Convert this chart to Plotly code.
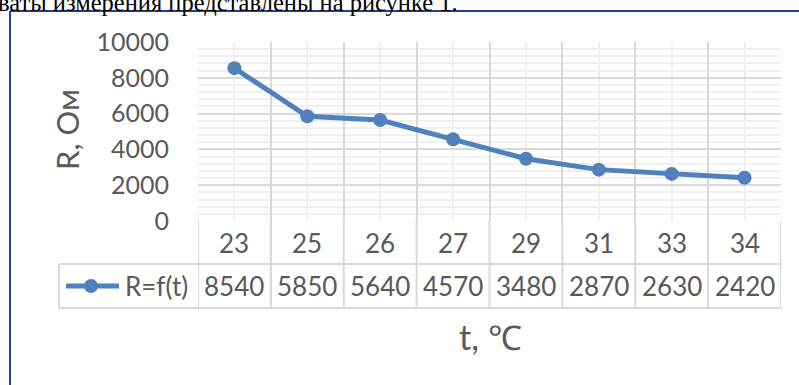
import plotly.graph_objects as go

categories = ["23", "25", "26", "27", "29", "31", "33", "34"]
values = [8540, 5850, 5640, 4570, 3480, 2870, 2630, 2420]
series_name = "R=f(t)"
y_ticks = [0, 2000, 4000, 6000, 8000, 10000]
y_title = "R, Ом"
x_title = "t, ℃"
caption = "ваты измерения представлены на рисунке 1."

W, H = 799, 385
L, R, T, B = 198, 18, 42, 164
plot_h = H - T - B
plot_w = W - L - R

LINE = "#4f81bd"
GRID = "#d9d9d9"
MINOR = "#f0f0f0"
TXT = "#595959"
FONT = "Lato, Carlito, sans-serif"

def py(p):
    # pixel y -> paper y
    return (H - B - p) / plot_h

def px(p):
    return (p - L) / plot_w

n = len(categories)
xs = list(range(n))

fig = go.Figure()
fig.add_trace(go.Scatter(
    x=xs, y=values, mode="lines+markers",
    line=dict(color=LINE, width=5),
    marker=dict(color=LINE, size=14),
    name=series_name, showlegend=False, cliponaxis=False,
))

shapes = []
annotations = []

# blue frame (document box)
shapes.append(dict(type="line", xref="paper", yref="paper",
                   x0=px(10), x1=px(800), y0=py(11), y1=py(11),
                   line=dict(color="#1c3fa8", width=2)))
shapes.append(dict(type="line", xref="paper", yref="paper",
                   x0=px(10), x1=px(10), y0=py(11), y1=py(390),
                   line=dict(color="#1c3fa8", width=2)))

# data table
row1_bot = py(264)
row2_bot = py(308)
shapes.append(dict(type="line", xref="paper", yref="paper",
                   x0=px(59), x1=1.0015, y0=row1_bot, y1=row1_bot,
                   line=dict(color=GRID, width=2)))
shapes.append(dict(type="line", xref="paper", yref="paper",
                   x0=px(59), x1=1.0015, y0=row2_bot, y1=row2_bot,
                   line=dict(color=GRID, width=2)))
shapes.append(dict(type="line", xref="paper", yref="paper",
                   x0=px(59), x1=px(59), y0=row1_bot, y1=row2_bot,
                   line=dict(color=GRID, width=2)))
for i in range(n + 1):
    shapes.append(dict(type="line", xref="x", yref="paper",
                       x0=i - 0.5, x1=i - 0.5, y0=0, y1=row2_bot,
                       line=dict(color=GRID, width=2)))

for i, (c, v) in enumerate(zip(categories, values)):
    annotations.append(dict(x=i, y=py(243), xref="x", yref="paper",
                            xanchor="center", yanchor="middle",
                            text=c, showarrow=False,
                            font=dict(size=26, color=TXT, family=FONT)))
    annotations.append(dict(x=i, y=py(286), xref="x", yref="paper",
                            xanchor="center", yanchor="middle",
                            text=str(v), showarrow=False,
                            font=dict(size=26, color=TXT, family=FONT)))

# legend key inside the table
shapes.append(dict(type="line", xref="paper", yref="paper",
                   x0=px(66), x1=px(119), y0=py(286), y1=py(286),
                   line=dict(color=LINE, width=5)))
shapes.append(dict(type="circle", xref="paper", yref="paper",
                   xsizemode="pixel", ysizemode="pixel",
                   xanchor=px(91), yanchor=py(286),
                   x0=-7, x1=7, y0=-7, y1=7,
                   fillcolor=LINE, line=dict(color=LINE, width=0)))
annotations.append(dict(x=px(123), y=py(286), xref="paper", yref="paper",
                        xanchor="left", yanchor="middle",
                        text=series_name, showarrow=False,
                        font=dict(size=26, color=TXT, family=FONT)))

# axis titles
annotations.append(dict(x=px(490), y=py(336), xref="paper", yref="paper",
                        xanchor="center", yanchor="middle",
                        text=x_title, showarrow=False,
                        font=dict(size=34, color=TXT, family=FONT)))
annotations.append(dict(x=px(67), y=py(130), xref="paper", yref="paper",
                        xanchor="center", yanchor="middle",
                        text=y_title, showarrow=False, textangle=-90,
                        font=dict(size=31, color=TXT, family=FONT)))

# caption text cut at top
annotations.append(dict(x=px(-4), y=py(18), xref="paper", yref="paper",
                        xanchor="left", yanchor="bottom",
                        text=caption, showarrow=False,
                        font=dict(size=24.5, color="#000000",
                                  family="Liberation Serif, Times New Roman, serif")))

fig.update_layout(
    width=W, height=H,
    margin=dict(l=L, r=R, t=T, b=B, pad=0),
    paper_bgcolor="white", plot_bgcolor="white",
    shapes=shapes, annotations=annotations,
    font=dict(family=FONT, color=TXT),
    xaxis=dict(range=[-0.5, n - 0.5], tickmode="linear", tick0=-0.5, dtick=1,
               showticklabels=False, showgrid=True, gridcolor=GRID, gridwidth=2,
               minor=dict(tick0=0, dtick=1, showgrid=True, gridcolor=MINOR, gridwidth=2),
               zeroline=False, showline=False, fixedrange=True),
    yaxis=dict(range=[0, 10000], tickvals=y_ticks, ticktext=[str(t) for t in y_ticks],
               showgrid=True, gridcolor=GRID, gridwidth=2,
               minor=dict(dtick=400, showgrid=True, gridcolor=MINOR, gridwidth=2),
               tickfont=dict(size=25, color=TXT, family=FONT),
               ticks="", ticklabelstandoff=28,
               zeroline=False, showline=False, fixedrange=True),
)

fig.write_html("out.html", config={"displayModeBar": False},
               post_script="document.body.style.margin='0';document.body.style.overflow='hidden';")
